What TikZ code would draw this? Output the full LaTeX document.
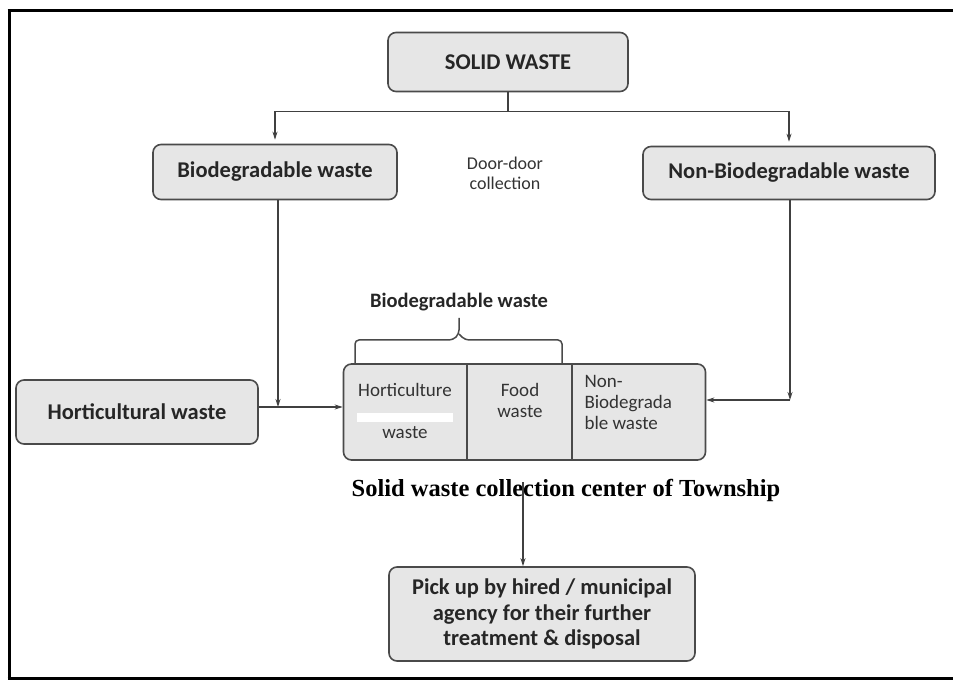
\documentclass[tikz,border=0pt]{standalone}
\usepackage{fontspec}
\setmainfont{Carlito}
\newfontfamily\timesfont{Liberation Serif}
\usetikzlibrary{arrows.meta}

\definecolor{boxfill}{HTML}{E6E6E6}
\definecolor{boxline}{HTML}{4A4A4A}

\tikzset{
  wastebox/.style={draw=boxline, line width=1.6pt, fill=boxfill, rounded corners=8pt,
    align=center, inner sep=0pt, text=black!85,
    font=\fontsize{22.5}{25.5}\selectfont\bfseries},
  link/.style={draw=black!75, line width=1.1pt, -{Stealth[length=8pt,width=5pt]}},
  plain/.style={draw=black!75, line width=1.1pt},
  small/.style={font=\fontsize{19}{21}\selectfont, text=black!80, align=center},
  frameline/.style={draw=black, line width=3pt},
}

\begin{document}
\begin{tikzpicture}[x=1pt, y=-1pt]
  \useasboundingbox (0,0) rectangle (953,684);
  % outer frame, open on the right
  \coordinate (ftl) at (7.5,11);
  \coordinate (fbl) at (7.5,678);
  \draw[frameline] (ftl) -- ++(946,0);
  \draw[frameline] (fbl) -- ++(946,0);
  \draw[frameline] ([xshift=1.5pt]ftl) -- ([xshift=1.5pt]fbl);

  \node (solid) [wastebox, minimum width=240pt, minimum height=59pt] at (508,62) {SOLID WASTE};
  \node (bio) [wastebox, minimum width=244pt, minimum height=55pt] at (275,172) {Biodegradable waste};
  \node (door) [small, font=\fontsize{18}{20}\selectfont] at (505,173) {Door-door\\collection};
  \node (nonbio) [wastebox, minimum width=292pt, minimum height=53pt] at (789,173) {Non-Biodegradable waste};
  \node (hort) [wastebox, minimum width=242pt, minimum height=64pt] at (137,412) {Horticultural waste};

  % collection center with three parts
  \node (collect) [wastebox, minimum width=362pt, minimum height=96pt] at (524.5,412) {};
  \draw[draw=boxline, line width=1.6pt] (collect.north -| 467,0) -- (collect.south -| 467,0);
  \draw[draw=boxline, line width=1.6pt] (collect.north -| 572,0) -- (collect.south -| 572,0);
  \node (hortin) [small] at (405,390) {Horticulture};
  \fill[white] (357,413) rectangle (453,422);
  \node (hortout) [small] at (405,433) {waste};
  \node (food) [small] at (520,400) {Food\\waste};
  \node (nonbioin) [small, align=left, anchor=west] at (581,402) {Non-\\Biodegrada\\ble waste};

  % brace over the biodegradable parts
  \draw[draw=boxline, line width=1.5pt, rounded corners=4pt]
    (355,363) -- (355,340) -- (453,340) -- (459,334) -- (459,318);
  \draw[draw=boxline, line width=1.5pt, rounded corners=4pt]
    (459,334) -- (465,340) -- (562,340) -- (562,363);
  \node (bracelbl) [font=\fontsize{20.5}{23}\selectfont\bfseries, text=black!85] at (459,302) {Biodegradable waste};

  \node (township) [font=\timesfont\fontsize{24.5}{27}\selectfont\bfseries] at (566,490) {Solid waste collection center of Township};
  \node (pickup) [wastebox, minimum width=306pt, minimum height=94pt] at (542,614)
    {Pick up by hired / municipal\\agency for their further\\treatment \& disposal};

  % connectors
  \draw[plain] (solid.south) -- ++(0,19) coordinate (split);
  \draw[link, shorten >=4pt] (split) -| (bio.north);
  \draw[link, shorten >=4pt] (split) -| (nonbio.north);

  \coordinate (lmeet) at (278,407);
  \draw[link] (bio.south -| lmeet) -- (lmeet);
  \draw[link] (hort.east |- lmeet) -- (collect.west |- lmeet);

  \coordinate (rmeet) at (790,400);
  \draw[link] (nonbio.south -| rmeet) -- (rmeet);
  \draw[link] (rmeet) -- (collect.east |- rmeet);

  \draw[link] ([xshift=-43pt,yshift=8pt]township.center) -- (pickup.north -| 523,0);
\end{tikzpicture}
\end{document}
